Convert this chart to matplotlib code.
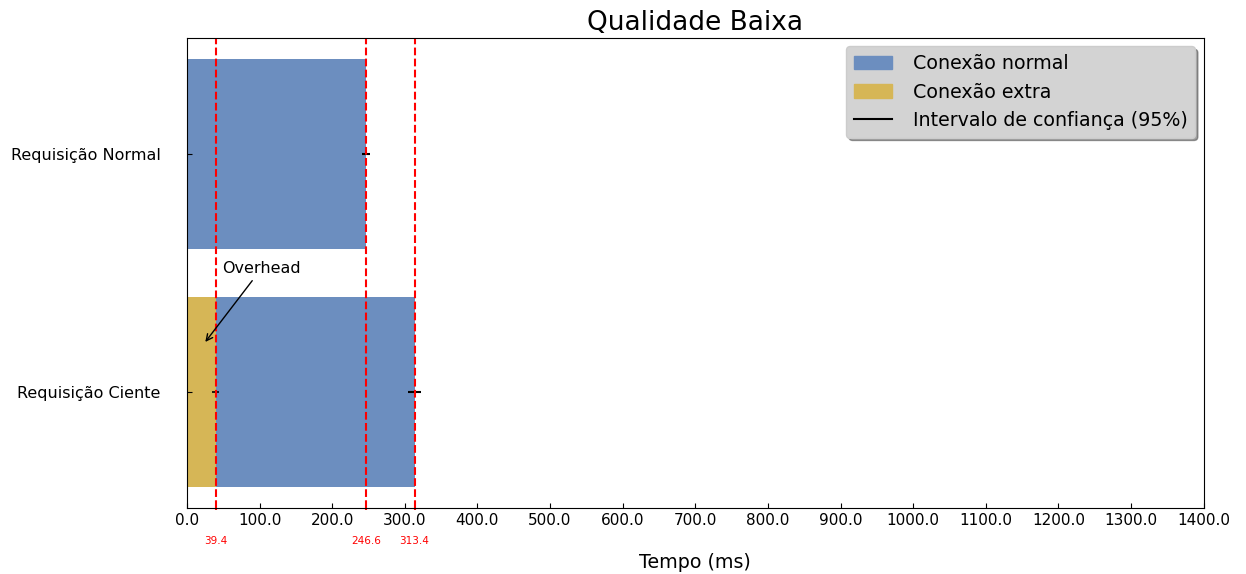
import matplotlib
matplotlib.use("Agg")
import matplotlib.pyplot as plt
from matplotlib.lines import Line2D
from matplotlib.patches import Patch

categories = ["Requisição Ciente", "Requisição Normal"]
extra_ms = [39.4, 0.0]
normal_ms = [274.0, 246.6]  # duration of the normal connection segment
extra_err = [5.0, 0.0]
total_err = [8.5, 6.0]
marker_lines = [39.4, 246.6, 313.4]
xticks = [0, 100, 200, 300, 400, 500, 600, 700, 800, 900, 1000, 1100, 1200, 1300, 1400]

blue = "#6c8ebf"
gold = "#d6b656"

fig = plt.figure(figsize=(12.46, 5.74), dpi=100)
ax = fig.add_axes([0.150, 0.115, 0.816, 0.819])

ypos = list(range(len(categories)))
ax.barh(ypos, extra_ms, height=0.8, color=gold)
ax.barh(ypos, normal_ms, left=extra_ms, height=0.8, color=blue)

totals = [e + n for e, n in zip(extra_ms, normal_ms)]
ax.errorbar(totals, ypos, xerr=total_err, fmt="none", ecolor="black", elinewidth=1.5)
ax.errorbar([extra_ms[0]], [ypos[0]], xerr=[extra_err[0]], fmt="none", ecolor="black", elinewidth=1.2)

for v in marker_lines:
    ax.axvline(v, color="red", linestyle="--", linewidth=1.5)

ax.set_xlim(0, 1400)
ax.set_xticks(xticks)
ax.set_xticklabels([f"{t:.1f}" for t in xticks])
ax.set_xticks(marker_lines, minor=True)
ax.set_xticklabels([f"{v:.1f}" for v in marker_lines], minor=True)
ax.tick_params(axis="x", which="minor", direction="out", length=1.5, width=1.5, color="red",
               labelcolor="red", labelsize=7.5, pad=19)
ax.tick_params(axis="both", which="major", direction="in", length=3.5)
ax.tick_params(axis="x", which="major", labelsize=11)
ax.tick_params(axis="y", which="major", labelsize=11.5, pad=19)
ax.set_yticks(ypos)
ax.set_yticklabels(categories)

ax.set_xlabel("Tempo (ms)", fontsize=13.7)
ax.xaxis.set_label_coords(0.5, -0.096)
ax.set_title("Qualidade Baixa", fontsize=19)

ax.annotate("Overhead", xy=(23, 0.2), xytext=(49, 0.52), fontsize=11.5,
            ha="left", va="center",
            arrowprops=dict(arrowstyle="->", color="black", lw=1))

handles = [Patch(color=blue, label="Conexão normal"),
           Patch(color=gold, label="Conexão extra"),
           Line2D([0], [0], color="black", lw=1.5, label="Intervalo de confiança (95%)")]
ax.legend(handles=handles, loc="upper right", fontsize=13.7, facecolor="#d3d3d3",
          framealpha=1, shadow=True, handlelength=2.0, handletextpad=1.1,
          borderaxespad=0.45)

fig.savefig("out.png", dpi=100)
